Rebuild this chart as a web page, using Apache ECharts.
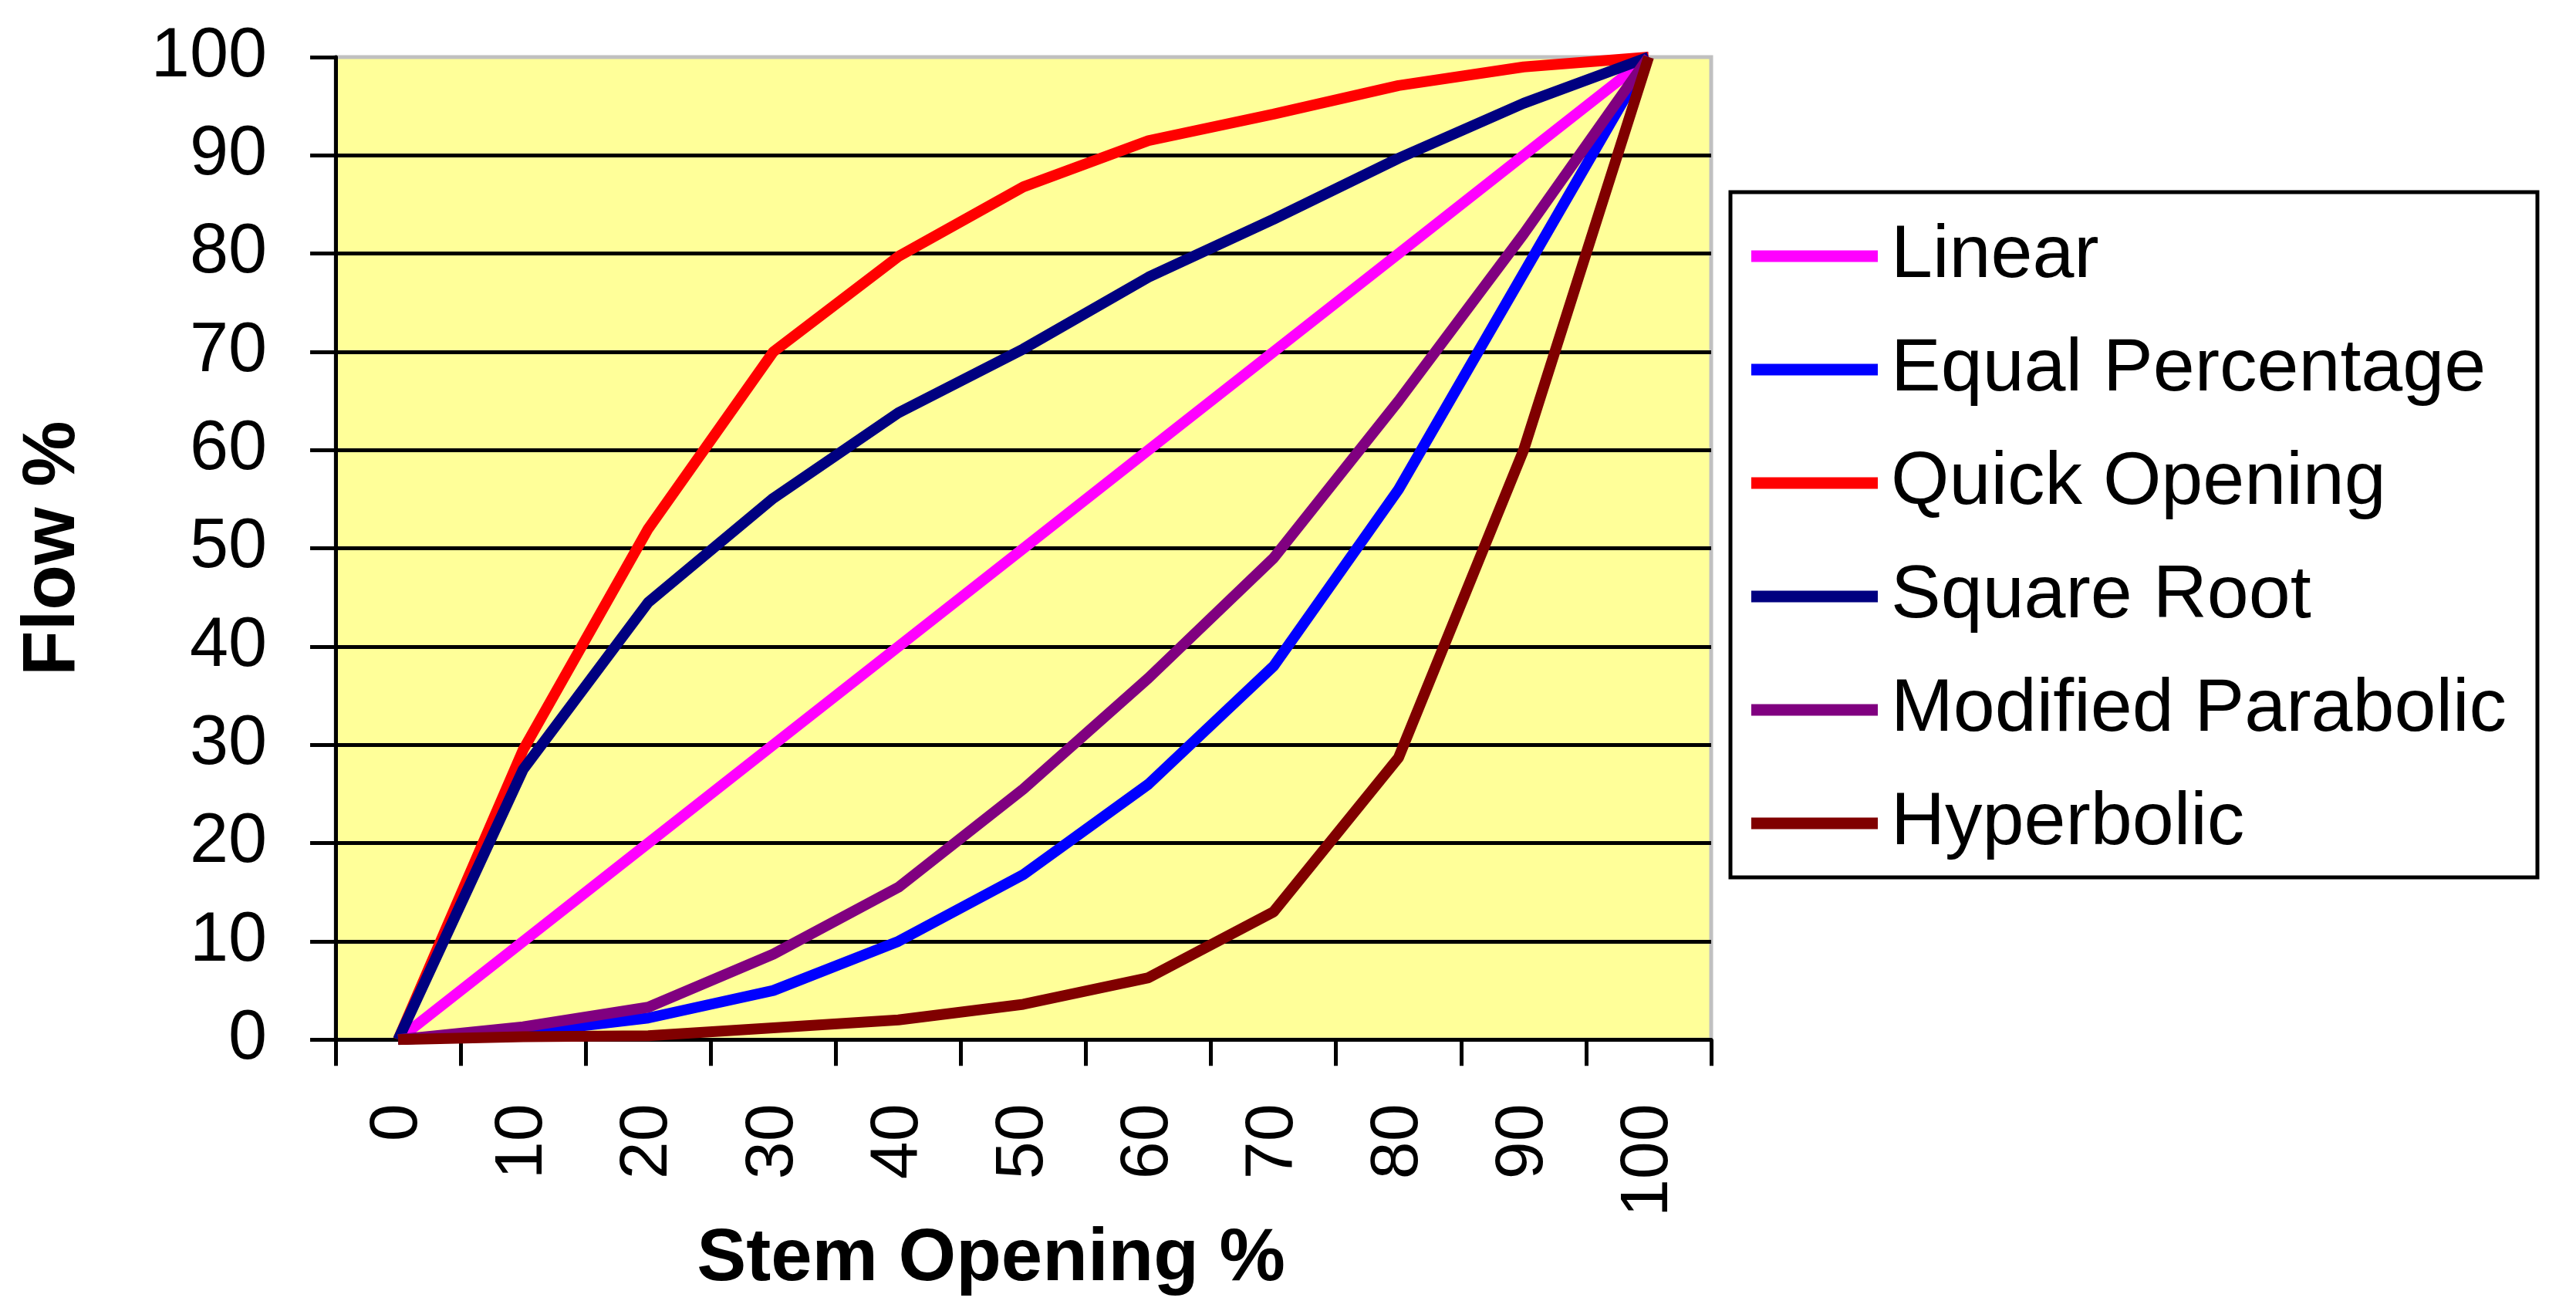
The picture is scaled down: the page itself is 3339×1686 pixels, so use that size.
<!DOCTYPE html>
<html>
<head>
<meta charset="utf-8">
<script src="https://cdn.jsdelivr.net/npm/echarts@6/dist/echarts.min.js"></script>
<style>
html,body{margin:0;padding:0;background:#fff;}
#chart{width:3339px;height:1686px;}
</style>
</head>
<body>
<div id="chart"></div>
<script>
const categories = ['0','10','20','30','40','50','60','70','80','90','100'];
const linear       = [0, 10, 20, 30, 40, 50, 60, 70, 80, 90, 100];
const equalPct     = [0, 0.7, 2.2, 5, 10, 16.8, 26, 38, 56, 78, 100];
const quickOpening = [0, 29.5, 52, 70, 79.7, 86.8, 91.5, 94.2, 97.1, 99, 100];
const squareRoot   = [0, 27.5, 44.5, 55.1, 63.8, 70.3, 77.6, 83.5, 89.7, 95.3, 100];
const modParabolic = [0, 1.3, 3.3, 8.7, 15.5, 25.5, 36.8, 49, 65, 82, 100];
const hyperbolic   = [0, 0.3, 0.4, 1.2, 2, 3.6, 6.3, 13, 28.7, 60, 100];
const yTicks = {min: 0, max: 100, interval: 10};

const seriesDefs = [
  {name: 'Linear', data: linear, color: '#FF00FF'},
  {name: 'Equal Percentage', data: equalPct, color: '#0000FF'},
  {name: 'Quick Opening', data: quickOpening, color: '#FF0000'},
  {name: 'Square Root', data: squareRoot, color: '#000080'},
  {name: 'Modified Parabolic', data: modParabolic, color: '#800080'},
  {name: 'Hyperbolic', data: hyperbolic, color: '#800000'}
];

const FONT = '"Liberation Sans", Arial, sans-serif';
const chart = echarts.init(document.getElementById('chart'));
chart.setOption({
  animation: false,
  backgroundColor: '#ffffff',
  textStyle: {fontFamily: FONT, color: '#000'},
  grid: {
    left: 435, top: 74, right: 1121, bottom: 334,
    show: true, backgroundColor: '#FFFF99', borderColor: '#C0C0C0', borderWidth: 5,
    containLabel: false
  },
  legend: {
    orient: 'vertical',
    left: 2243, top: 249,
    padding: [33, 40, 20, 27],
    itemGap: 47,
    itemWidth: 164, itemHeight: 15,
    icon: 'rect',
    backgroundColor: '#ffffff',
    borderColor: '#000000', borderWidth: 5, borderRadius: 0,
    textStyle: {fontFamily: FONT, fontSize: 97, lineHeight: 100, color: '#000', padding: [0, 0, 0, 12]},
    data: seriesDefs.map(s => s.name)
  },
  xAxis: {
    type: 'category',
    data: categories,
    boundaryGap: true,
    name: 'Stem Opening %',
    nameLocation: 'middle',
    nameGap: 195,
    nameTextStyle: {fontFamily: FONT, fontSize: 96, fontWeight: 'bold', color: '#000', padding: [0, 84, 0, 0]},
    axisLine: {show: true, lineStyle: {color: '#000', width: 5}},
    axisTick: {show: true, interval: 0, length: 34, lineStyle: {color: '#000', width: 5}},
    axisLabel: {interval: 0, rotate: 90, margin: 83, fontSize: 88, fontFamily: FONT, color: '#000'},
    splitLine: {show: false}
  },
  yAxis: {
    type: 'value',
    min: yTicks.min, max: yTicks.max, interval: yTicks.interval,
    name: 'Flow %',
    nameLocation: 'middle',
    nameGap: 317,
    nameTextStyle: {fontFamily: FONT, fontSize: 96, fontWeight: 'bold', color: '#000'},
    axisLine: {show: true, lineStyle: {color: '#000', width: 5}},
    axisTick: {show: true, length: 33, lineStyle: {color: '#000', width: 5}},
    axisLabel: {margin: 89, fontSize: 90, fontFamily: FONT, color: '#000'},
    splitLine: {show: true, showMaxLine: false, lineStyle: {color: '#000', width: 5}}
  },
  series: seriesDefs.map((s, i) => ({
    name: s.name,
    type: 'line',
    data: s.data,
    symbol: 'none',
    smooth: false,
    color: s.color,
    lineStyle: {color: s.color, width: 14},
    itemStyle: {color: s.color},
    z: 3 + i
  }))
});
</script>
</body>
</html>
